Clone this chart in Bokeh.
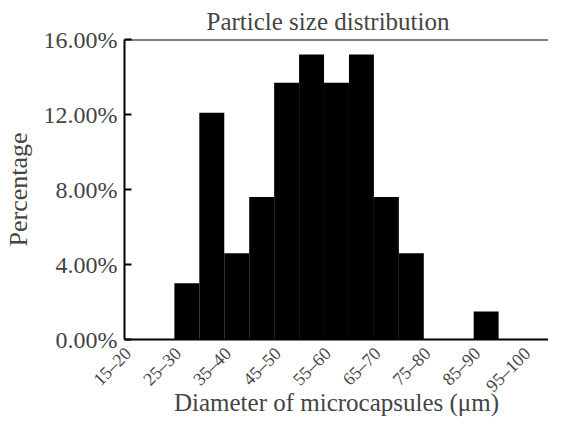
from bokeh.plotting import figure
from bokeh.models import Range1d, FixedTicker, PrintfTickFormatter, Span
from bokeh.embed import file_html
from bokeh.resources import INLINE
import math

categories = ["15–20", "20–25", "25–30", "30–35", "35–40", "40–45", "45–50", "50–55",
              "55–60", "60–65", "65–70", "70–75", "75–80", "80–85", "85–90", "90–95", "95–100"]
percentages = [0.0, 0.0, 3.0, 12.1, 4.6, 7.6, 13.7, 15.2, 13.7, 15.2, 7.6, 4.6, 0.0, 0.0, 1.5, 0.0, 0.0]
y_ticks = [0, 4, 8, 12, 16]
label_step = 2

FONT = "Liberation Serif"
n = len(categories)
x_pos = [i + 0.5 for i in range(n)]
LABEL_SHIFT = 0.35  # labels sit slightly left of the category centre, as in the reference
tick_pos = [x_pos[i] - LABEL_SHIFT for i in range(0, n, label_step)]
tick_text = {t: categories[i] for t, i in zip(tick_pos, range(0, n, label_step))}

p = figure(width=548, height=418, output_backend="svg", toolbar_location=None,
           x_range=Range1d(0, n), y_range=Range1d(0, 16),
           min_border_left=117, min_border_right=0, min_border_top=34, min_border_bottom=0)

p.vbar(x=x_pos, top=percentages, width=1.0, color="black", line_color=None)

p.title.text = "Particle size distribution"
p.title.text_font = FONT
p.title.text_font_size = "25px"
p.title.text_font_style = "normal"
p.title.align = "left"
p.title.offset = 82

p.outline_line_color = None
p.add_layout(Span(location=16, dimension="width", line_color="black", line_width=2))
p.xgrid.grid_line_color = None
p.ygrid.grid_line_color = None

ya = p.yaxis[0]
ya.ticker = FixedTicker(ticks=y_ticks)
ya.formatter = PrintfTickFormatter(format="%.2f%%")
ya.major_label_text_font = FONT
ya.major_label_text_font_size = "24px"
ya.major_label_standoff = 7
ya.major_tick_in = 7
ya.major_tick_out = 0
ya.major_tick_line_width = 2
ya.minor_tick_line_color = None
ya.axis_line_width = 2
ya.axis_label = "Percentage"
ya.axis_label_text_font = FONT
ya.axis_label_text_font_size = "26px"
ya.axis_label_text_font_style = "normal"
ya.axis_label_standoff = 8

xa = p.xaxis[0]
xa.ticker = FixedTicker(ticks=tick_pos, minor_ticks=[])
xa.major_label_overrides = tick_text
xa.major_label_orientation = math.pi / 4
xa.major_label_text_font = FONT
xa.major_label_text_font_size = "18px"
xa.major_label_standoff = 5
xa.major_tick_line_color = None
xa.minor_tick_line_color = None
xa.axis_line_width = 2
xa.axis_label = "Diameter of microcapsules (μm)"
xa.axis_label_text_font = FONT
xa.axis_label_text_font_size = "25px"
xa.axis_label_text_font_style = "normal"
xa.axis_label_text_line_height = 0.9
xa.axis_label_standoff = -17

open("out.html", "w").write(file_html(p, INLINE))
